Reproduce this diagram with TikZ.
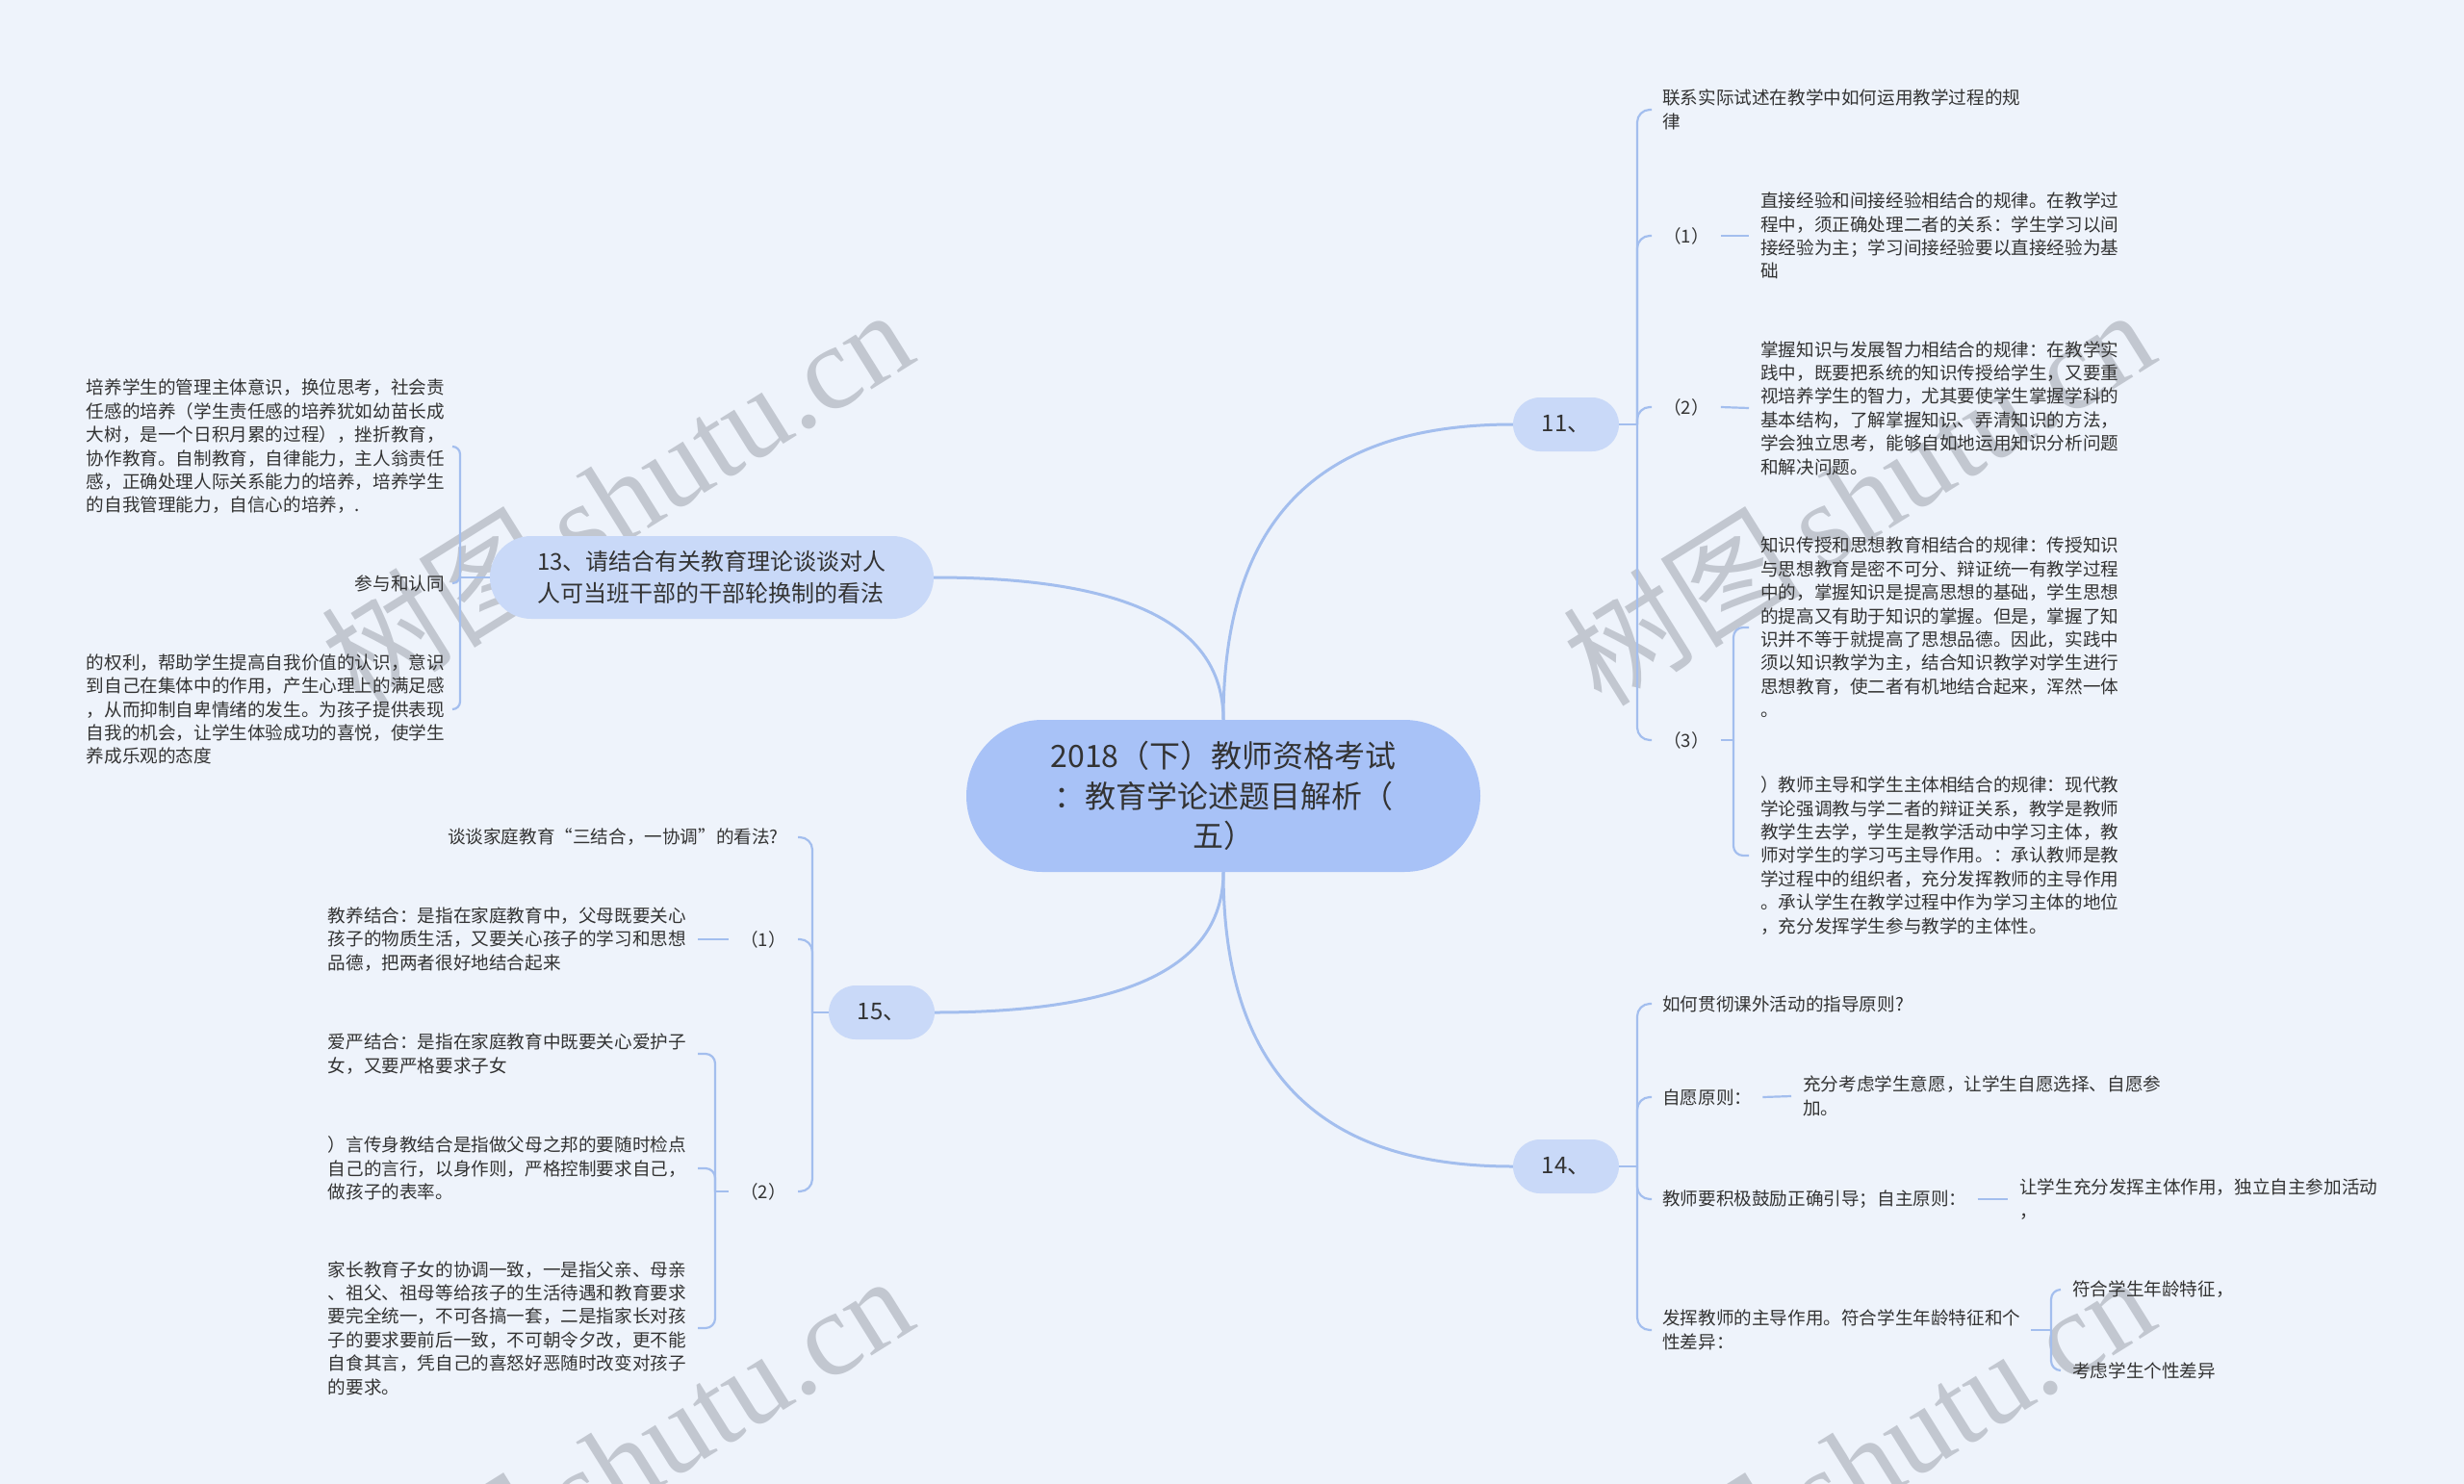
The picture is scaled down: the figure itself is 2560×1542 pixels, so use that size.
\documentclass[tikz,border=0pt]{standalone}
\usepackage{fontspec}
\setmainfont{Noto Sans CJK SC}
\newfontfamily\wmserif{Liberation Serif}
\definecolor{bgc}{RGB}{238,243,251}
\definecolor{linec}{RGB}{163,190,238}
\definecolor{rootc}{RGB}{168,194,247}
\definecolor{subc}{RGB}{201,217,248}
\definecolor{txtc}{RGB}{51,51,51}
\definecolor{wmc}{RGB}{194,199,208}
\tikzset{
  mainline/.style={draw=linec, line width=3pt},
  subline/.style={draw=linec, line width=2.2pt},
  txt/.style={font=\fontsize{18.6}{24.4}\selectfont, text=txtc, align=left, inner xsep=12pt, inner ysep=0pt},
  lab/.style={font=\fontsize{18.6}{24.4}\selectfont, text=txtc, inner xsep=12pt, inner ysep=0pt},
  rootbox/.style={fill=rootc, text=txtc, rounded corners=79pt, minimum width=534pt, minimum height=158pt, align=center, font=\fontsize{32}{41.6}\selectfont},
  bigbox/.style={fill=subc, text=txtc, rounded corners=43pt, minimum width=461pt, minimum height=86pt, align=left, font=\fontsize{24}{32.6}\selectfont},
  numbox/.style={fill=subc, text=txtc, rounded corners=28pt, minimum width=110pt, minimum height=56pt, font=\fontsize{24}{30}\selectfont},
  wm/.style={text=wmc, rotate=32, font=\fontsize{124}{130}\selectfont, inner sep=0pt},
}
\begin{document}
\begin{tikzpicture}[x=1pt,y=-1pt]
\useasboundingbox (0,0) rectangle (2560,1542);
\fill[bgc] (0,0) rectangle (2560,1542);
% watermarks
\begin{scope}
\clip (0,0) rectangle (2560,1542);
\foreach \i/\x/\y in {1/640/515, 2/1930/515, 3/640/1519, 4/1930/1519}
  \node[wm] (wm\i) at (\x,\y) {树图\,{\wmserif shutu.cn}};
\end{scope}

% main nodes
\node[rootbox] (c) at (1271,827) {2018（下）教师资格考试\\：教育学论述题目解析（\\五）};
\node[numbox] (n11) at (1627,441) {11、};
\node[numbox] (n14) at (1627,1212) {14、};
\node[numbox] (n15) at (916,1052) {15、};
\node[bigbox] (n13) at (739.5,600) {13、请结合有关教育理论谈谈对人\\人可当班干部的干部轮换制的看法};

\draw[mainline] (c.north) .. controls +(0,-205) and +(-205,0) .. (n11.west);
\draw[mainline] (c.north) .. controls +(0,-99) and +(201,0) .. (n13.east);
\draw[mainline] (c.south) .. controls +(0,204) and +(-204,0) .. (n14.west);
\draw[mainline] (c.south) .. controls +(0,98) and +(201,0) .. (n15.east);

% ---------- branch 11 ----------
\coordinate (s11) at (1701,441);
\draw[subline] (n11.east) -- (s11);
\node[txt, anchor=west, inner xsep=11pt] (a11) at (1716,114) {联系实际试述在教学中如何运用教学过程的规\\律};
\node[lab, anchor=west] (l111) at (1716,245) {（1）};
\node[lab, anchor=west] (l112) at (1716,423) {（2）};
\node[lab, anchor=west] (l113) at (1716,769) {（3）};
\foreach \t in {a11,l111,l112,l113}
  \draw[subline, rounded corners=13pt] (s11) |- (\t.west);
\node[txt, anchor=west] (t111) at (1817,245) {直接经验和间接经验相结合的规律。在教学过\\程中，须正确处理二者的关系：学生学习以间\\接经验为主；学习间接经验要以直接经验为基\\础};
\node[txt, anchor=west] (t112) at (1817,424) {掌握知识与发展智力相结合的规律：在教学实\\践中，既要把系统的知识传授给学生，又要重\\视培养学生的智力，尤其要使学生掌握学科的\\基本结构，了解掌握知识、弄清知识的方法，\\学会独立思考，能够自如地运用知识分析问题\\和解决问题。};
\node[txt, anchor=west] (t113a) at (1817,652) {知识传授和思想教育相结合的规律：传授知识\\与思想教育是密不可分、辩证统一有教学过程\\中的，掌握知识是提高思想的基础，学生思想\\的提高又有助于知识的掌握。但是，掌握了知\\识并不等于就提高了思想品德。因此，实践中\\须以知识教学为主，结合知识教学对学生进行\\思想教育，使二者有机地结合起来，浑然一体\\。};
\node[txt, anchor=west] (t113b) at (1817,889) {）教师主导和学生主体相结合的规律：现代教\\学论强调教与学二者的辩证关系，教学是教师\\教学生去学，学生是教学活动中学习主体，教\\师对学生的学习丐主导作用。：承认教师是教\\学过程中的组织者，充分发挥教师的主导作用\\。承认学生在教学过程中作为学习主体的地位\\，充分发挥学生参与教学的主体性。};
\draw[subline] (l111.east) -- (t111.west);
\draw[subline] (l112.east) -- (t112.west);
\coordinate (b113) at (1801,769);
\draw[subline] (l113.east) -- (b113);
\draw[subline, rounded corners=10pt] (b113) |- (t113a.west);
\draw[subline, rounded corners=10pt] (b113) |- (t113b.west);

% ---------- branch 14 ----------
\coordinate (s14) at (1701,1212);
\draw[subline] (n14.east) -- (s14);
\node[lab, anchor=west, inner xsep=11pt] (q14) at (1716,1043) {如何贯彻课外活动的指导原则?};
\node[lab, anchor=west, inner xsep=11pt] (l142) at (1716,1140) {自愿原则：};
\node[lab, anchor=west, inner xsep=11pt] (l143) at (1716,1246) {教师要积极鼓励正确引导；自主原则：};
\node[txt, anchor=west, inner xsep=11pt] (l144) at (1716,1382) {发挥教师的主导作用。符合学生年龄特征和个\\性差异：};
\foreach \t in {q14,l142,l143,l144}
  \draw[subline, rounded corners=13pt] (s14) |- (\t.west);
\node[txt, anchor=west] (t142) at (1861,1139) {充分考虑学生意愿，让学生自愿选择、自愿参\\加。};
\node[txt, anchor=west] (t143) at (2086,1246) {让学生充分发挥主体作用，独立自主参加活动\\，};
\draw[subline] (l142.east) -- (t142.west);
\draw[subline] (l143.east) -- (t143.west);
\coordinate (b144) at (2131,1382);
\draw[subline] (l144.east) -- (b144);
\node[lab, anchor=west] (c1441) at (2141,1340) {符合学生年龄特征，};
\node[lab, anchor=west] (c1442) at (2141,1424) {考虑学生个性差异};
\draw[subline, rounded corners=10pt] (b144) |- (c1441.west);
\draw[subline, rounded corners=10pt] (b144) |- (c1442.west);

% ---------- branch 15 ----------
\coordinate (s15) at (844,1052);
\draw[subline] (n15.west) -- (s15);
\node[lab, anchor=east, inner xsep=20pt] (q15) at (829,870) {谈谈家庭教育“三结合，一协调”的看法?};
\node[lab, anchor=east] (l151) at (829,976) {（1）};
\node[lab, anchor=east] (l152) at (829,1238) {（2）};
\foreach \t in {q15,l151,l152}
  \draw[subline, rounded corners=13pt] (s15) |- (\t.east);
\node[txt, anchor=east] (t151) at (725,976) {教养结合：是指在家庭教育中，父母既要关心\\孩子的物质生活，又要关心孩子的学习和思想\\品德，把两者很好地结合起来};
\draw[subline] (l151.west) -- (t151.east);
\coordinate (b152) at (743,1238);
\draw[subline] (l152.west) -- (b152);
\node[txt, anchor=east] (t152a) at (725,1095) {爱严结合：是指在家庭教育中既要关心爱护子\\女，又要严格要求子女};
\node[txt, anchor=east] (t152b) at (725,1214) {）言传身教结合是指做父母之邦的要随时检点\\自己的言行，以身作则，严格控制要求自己，\\做孩子的表率。};
\node[txt, anchor=east] (t152c) at (725,1380) {家长教育子女的协调一致，一是指父亲、母亲\\、祖父、祖母等给孩子的生活待遇和教育要求\\要完全统一，不可各搞一套，二是指家长对孩\\子的要求要前后一致，不可朝令夕改，更不能\\自食其言，凭自己的喜怒好恶随时改变对孩子\\的要求。};
\foreach \t in {t152a,t152b,t152c}
  \draw[subline, rounded corners=10pt] (b152) |- (\t.east);

% ---------- branch 13 ----------
\coordinate (s13) at (478,600);
\draw[subline] (n13.west) -- (s13);
\node[txt, anchor=east, inner xsep=8pt] (t131) at (470,464) {培养学生的管理主体意识，换位思考，社会责\\任感的培养（学生责任感的培养犹如幼苗长成\\大树，是一个日积月累的过程），挫折教育，\\协作教育。自制教育，自律能力，主人翁责任\\感，正确处理人际关系能力的培养，培养学生\\的自我管理能力，自信心的培养，.};
\node[lab, anchor=east, inner xsep=8pt] (l132) at (470,606) {参与和认同};
\node[txt, anchor=east, inner xsep=8pt] (t133) at (470,737) {的权利，帮助学生提高自我价值的认识，意识\\到自己在集体中的作用，产生心理上的满足感\\，从而抑制自卑情绪的发生。为孩子提供表现\\自我的机会，让学生体验成功的喜悦，使学生\\养成乐观的态度};
\foreach \t in {t131,l132,t133}
  \draw[subline, rounded corners=8pt] (s13) |- (\t.east);
\end{tikzpicture}
\end{document}
